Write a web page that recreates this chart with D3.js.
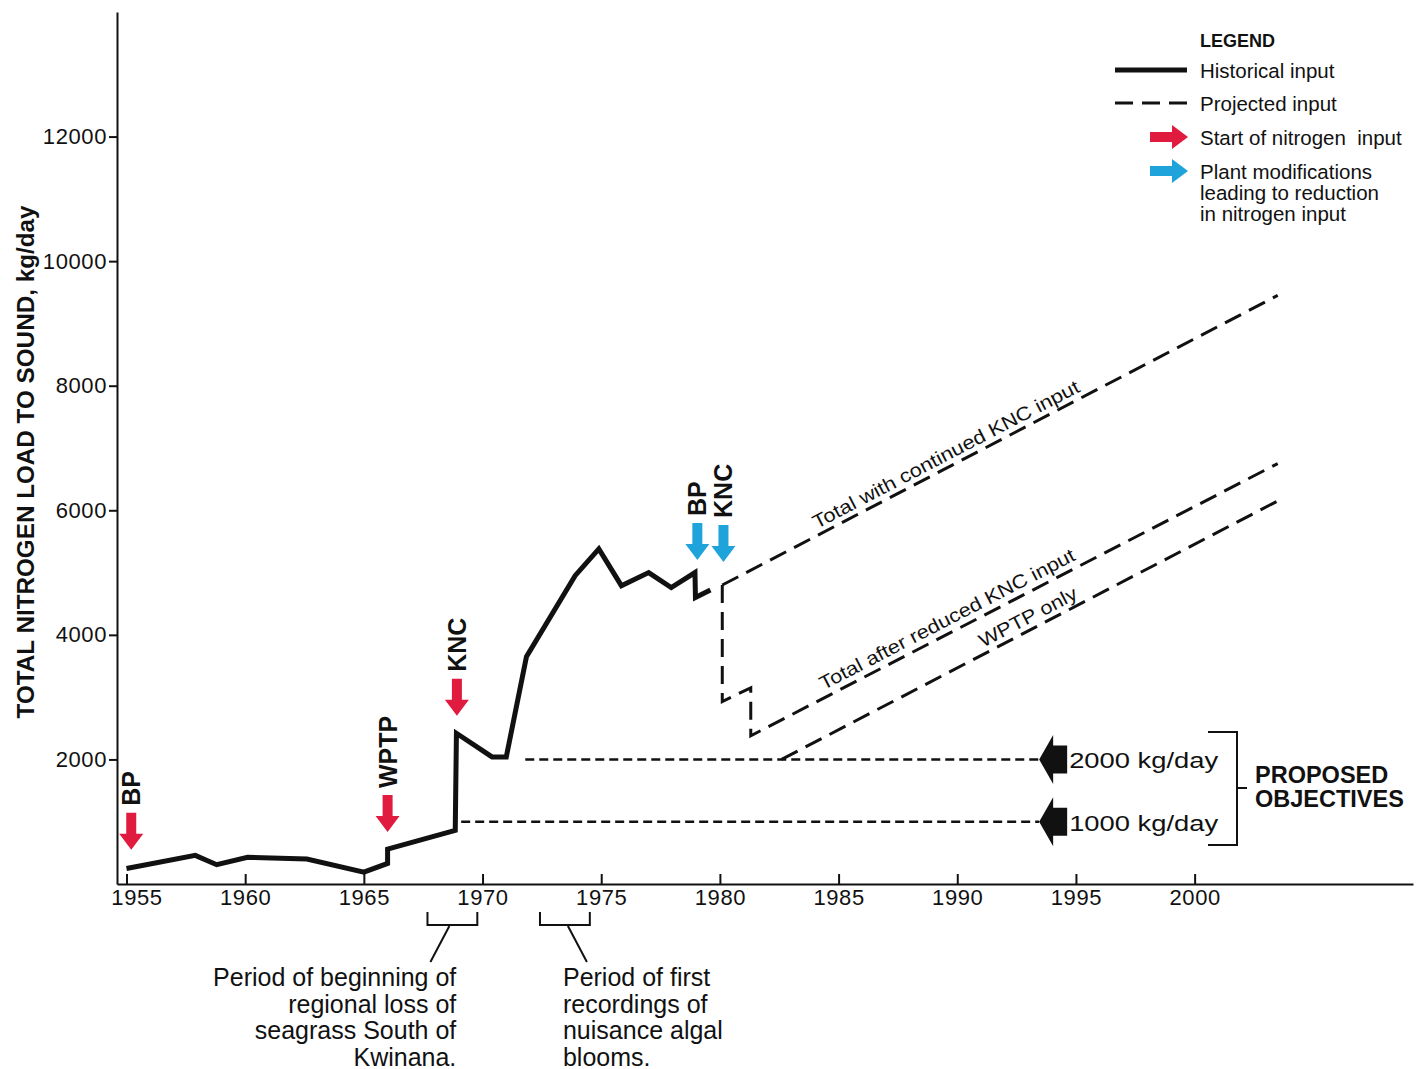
<!DOCTYPE html>
<html>
<head>
<meta charset="utf-8">
<script src="https://cdn.jsdelivr.net/npm/d3@7"></script>
<style>
  body { margin: 0; background: #fff; }
  svg { display: block; font-family: "Liberation Sans", Arial, Helvetica, sans-serif; }
  .axis text { font-size: 22px; letter-spacing: 0.6px; fill: #111; }
  .axis path, .axis line { stroke: #111; stroke-width: 2; }
</style>
</head>
<body>
<div id="chart"></div>
<script>
// historical nitrogen load (kg/day)
const histYears = [1955, 1957.9, 1958.8, 1960.1, 1962.6, 1965, 1966, 1966, 1968.85, 1968.9, 1970.4, 1971, 1971.85, 1973.9, 1974.9, 1975.85, 1977, 1977.95, 1978.95, 1978.97, 1979.6];
const histLoad  = [250, 460, 310, 430, 400, 190, 330, 560, 860, 2420, 2040, 2040, 3650, 4950, 5380, 4790, 5000, 4760, 5000, 4600, 4720];

// projections
const contYears = [1980.1, 2003.5];
const contLoad  = [4800, 9450];
const reducedYears = [1980.1, 1980.1, 1981.3, 1981.3, 2003.5];
const reducedLoad  = [4800, 2930, 3150, 2380, 6750];
const wptpYears = [1982.6, 2003.5];
const wptpLoad  = [2000, 6150];

// proposed objectives
const objLevels = [2000, 1000];
const objStart  = [1971.8, 1969.1];
const objEnd    = 1993.45;
const objLabels = ["2000 kg/day", "1000 kg/day"];

// events
const redYears  = [1955.2, 1966.0, 1968.92];
const redTips   = [550, 835, 2700];
const redLabels = ["BP", "WPTP", "KNC"];
const blueYears  = [1979.05, 1980.15];
const blueTips   = [5200, 5170];
const blueLabels = ["BP", "KNC"];

// periods annotated under the axis
const periodStart = [1967.68, 1972.42];
const periodEnd   = [1969.78, 1974.52];
const periodText  = [
  ["Period of beginning of", "regional loss of", "seagrass South of", "Kwinana."],
  ["Period of first", "recordings of", "nuisance algal", "blooms."]
];

const xTicks = [1955, 1960, 1965, 1970, 1975, 1980, 1985, 1990, 1995, 2000];
const yTicks = [2000, 4000, 6000, 8000, 10000, 12000];

const RED = "#e11b3f", BLUE = "#1ea4da", INK = "#111";

const width = 1427, height = 1069;
const svg = d3.select("#chart").append("svg")
  .attr("width", width).attr("height", height);

const x = d3.scaleLinear().domain([1954.6, 2009.2]).range([117, 1413]);
const y = d3.scaleLinear().domain([0, 14000]).range([884, 12]);

// axes
svg.append("g").attr("class", "axis")
  .attr("transform", "translate(117,0)")
  .call(d3.axisLeft(y).tickValues(yTicks).tickSizeInner(8).tickSizeOuter(0).tickPadding(2).tickFormat(d3.format("d")));

const xAxis = svg.append("g").attr("class", "axis")
  .attr("transform", "translate(0,884)")
  .call(d3.axisBottom(x).tickValues(xTicks).tickSizeInner(-10).tickSizeOuter(0).tickPadding(5).tickFormat(d3.format("d")));
// first label sits a little right of its tick, clear of the y axis
xAxis.selectAll(".tick text").filter(d => d === 1955).attr("dx", 10);

svg.append("text")
  .attr("transform", "translate(25,462) rotate(-90)")
  .attr("text-anchor", "middle").attr("dy", "0.36em")
  .attr("font-size", 24).attr("font-weight", "bold").attr("fill", INK)
  .attr("textLength", 513).attr("lengthAdjust", "spacingAndGlyphs")
  .text("TOTAL NITROGEN LOAD TO SOUND, kg/day");

const line = d3.line().x(d => x(d[0])).y(d => y(d[1]));

// objective lines
objLevels.forEach((lv, i) => {
  svg.append("path")
    .attr("d", line([[objStart[i], lv], [objEnd, lv]]))
    .attr("fill", "none").attr("stroke", INK).attr("stroke-width", 2.5)
    .attr("stroke-dasharray", "9,5");
});

// projected lines
[[contYears, contLoad], [reducedYears, reducedLoad], [wptpYears, wptpLoad]].forEach(([xs, ys]) => {
  svg.append("path")
    .attr("d", line(xs.map((v, i) => [v, ys[i]])))
    .attr("fill", "none").attr("stroke", INK).attr("stroke-width", 3)
    .attr("stroke-dasharray", "18,9").attr("stroke-linejoin", "miter");
});

// historical line
svg.append("path")
  .attr("d", line(histYears.map((v, i) => [v, histLoad[i]])))
  .attr("fill", "none").attr("stroke", INK).attr("stroke-width", 5)
  .attr("stroke-linejoin", "miter").attr("stroke-miterlimit", 6);

// labels along projections
function lineLabel(xs, ys, startYear, txt, len, off) {
  const x1 = x(xs[xs.length - 2]), y1 = y(ys[ys.length - 2]);
  const x2 = x(xs[xs.length - 1]), y2 = y(ys[ys.length - 1]);
  const ang = Math.atan2(y2 - y1, x2 - x1);
  const px = x(startYear), py = y1 + (px - x1) * (y2 - y1) / (x2 - x1);
  const nx = Math.sin(ang) * off, ny = -Math.cos(ang) * off;
  svg.append("text")
    .attr("transform", `translate(${px + nx},${py + ny}) rotate(${ang * 180 / Math.PI})`)
    .attr("font-size", 19).attr("fill", INK)
    .attr("textLength", len).attr("lengthAdjust", "spacingAndGlyphs")
    .text(txt);
}
lineLabel(contYears, contLoad, 1984.2, "Total with continued KNC input", 298, 6);
lineLabel(reducedYears, reducedLoad, 1984.5, "Total after reduced KNC input", 285, 7);
lineLabel(wptpYears, wptpLoad, 1991.2, "WPTP only", 108, 6);

// arrow shape pointing +x with tip at origin
function arrowPath(len, shaft, head, headLen) {
  return `M0,0 L${-headLen},${-head / 2} L${-headLen},${-shaft / 2} L${-len},${-shaft / 2}` +
         ` L${-len},${shaft / 2} L${-headLen},${shaft / 2} L${-headLen},${head / 2} Z`;
}

function eventArrows(years, tips, labels, color) {
  years.forEach((yr, i) => {
    const tx = x(yr), ty = y(tips[i]);
    svg.append("path")
      .attr("transform", `translate(${tx},${ty}) rotate(90)`)
      .attr("d", arrowPath(37, 10, 24, 16))
      .attr("fill", color);
    svg.append("text")
      .attr("transform", `translate(${tx},${ty - 44}) rotate(-90)`)
      .attr("dy", "0.36em")
      .attr("font-size", 25).attr("font-weight", "bold").attr("fill", INK)
      .text(labels[i]);
  });
}
eventArrows(redYears, redTips, redLabels, RED);
eventArrows(blueYears, blueTips, blueLabels, BLUE);

// objective block arrows + labels
objLevels.forEach((lv, i) => {
  const tx = x(objEnd), ty = y(lv);
  svg.append("path")
    .attr("transform", `translate(${tx},${ty}) rotate(180)`)
    .attr("d", arrowPath(28, 28, 49, 14))
    .attr("fill", INK);
  svg.append("text")
    .attr("x", tx + 30).attr("y", ty + 9)
    .attr("font-size", 22).attr("fill", INK)
    .attr("textLength", 149).attr("lengthAdjust", "spacingAndGlyphs")
    .text(objLabels[i]);
});

const br = svg.append("g").attr("fill", "none").attr("stroke", INK).attr("stroke-width", 2);
br.append("path").attr("d", "M1208,732 H1237 V845 H1208 M1237,788 H1247");
const po = svg.append("g").attr("font-size", 23.5).attr("font-weight", "bold").attr("fill", INK);
po.append("text").attr("x", 1255).attr("y", 783).text("PROPOSED");
po.append("text").attr("x", 1255).attr("y", 807).text("OBJECTIVES");

// period brackets under the x axis
periodStart.forEach((s, i) => {
  const a = x(s), b = x(periodEnd[i]);
  br.append("path").attr("d", `M${a},912 V925 H${b} V912`);
  const mid = (a + b) / 2;
  if (i === 0) {
    br.append("path").attr("d", `M${mid - 3},926 L${mid - 22},962`);
  } else {
    br.append("path").attr("d", `M${mid + 3},926 L${mid + 22},962`);
  }
  const t = svg.append("text")
    .attr("font-size", 25).attr("fill", INK)
    .attr("text-anchor", i === 0 ? "end" : "start");
  periodText[i].forEach((ln, k) => {
    t.append("tspan")
      .attr("x", i === 0 ? b - 21 : a + 23)
      .attr("y", 986 + k * 26.5)
      .text(ln);
  });
});

// legend
const lg = svg.append("g").attr("fill", INK);
lg.append("text").attr("x", 1200).attr("y", 47).attr("font-size", 18).attr("font-weight", "bold").text("LEGEND");
lg.append("line").attr("x1", 1115).attr("x2", 1187).attr("y1", 70).attr("y2", 70)
  .attr("stroke", INK).attr("stroke-width", 5);
lg.append("line").attr("x1", 1115).attr("x2", 1187).attr("y1", 103).attr("y2", 103)
  .attr("stroke", INK).attr("stroke-width", 3).attr("stroke-dasharray", "18,9");
lg.append("path").attr("transform", "translate(1188,137)").attr("d", arrowPath(38, 10, 24, 16)).attr("fill", RED);
lg.append("path").attr("transform", "translate(1188,171)").attr("d", arrowPath(38, 10, 24, 16)).attr("fill", BLUE);
const legendText = [["Historical input", 78], ["Projected input", 111], ["Start of nitrogen  input", 145],
  ["Plant modifications", 179], ["leading to reduction", 200], ["in nitrogen input", 221]];
legendText.forEach(([t, yy]) => {
  lg.append("text").attr("x", 1200).attr("y", yy).attr("font-size", 20.5).style("white-space", "pre").text(t);
});
</script>
</body>
</html>
